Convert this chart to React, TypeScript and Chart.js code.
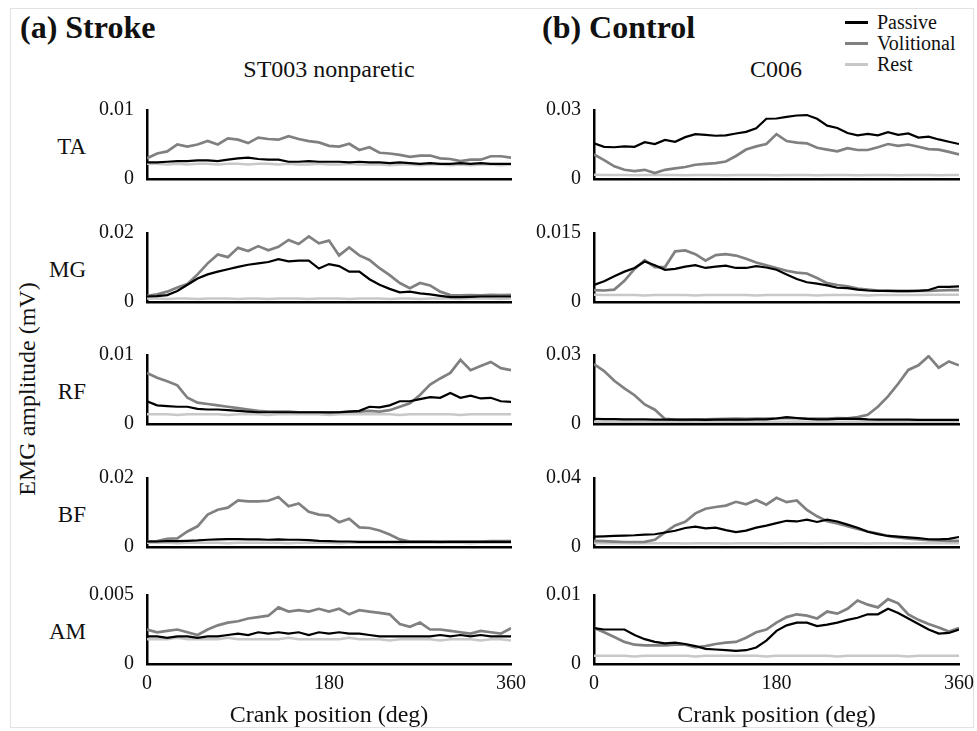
import React, { useEffect, useRef } from "react";
import { Chart, registerables } from "chart.js";
Chart.register(...registerables);

// ---------- data ----------
const DEG = [0, 10, 20, 30, 40, 50, 60, 70, 80, 90, 100, 110, 120, 130, 140, 150, 160, 170, 180, 190, 200, 210, 220, 230, 240, 250, 260, 270, 280, 290, 300, 310, 320, 330, 340, 350, 360];
const X_TICKS = [0, 180, 360];
const SERIES_NAMES = ["Passive", "Volitional", "Rest"];
const MUSCLES = ["TA", "MG", "RF", "BF", "AM"];
const STROKE_YMAX = [0.01, 0.02, 0.01, 0.02, 0.005];
const STROKE_YLABELS = ["0.01", "0.02", "0.01", "0.02", "0.005"];
const CONTROL_YMAX = [0.03, 0.015, 0.03, 0.04, 0.01];
const CONTROL_YLABELS = ["0.03", "0.015", "0.03", "0.04", "0.01"];

// Stroke (ST003 nonparetic)
const ST_TA_PAS = [0.0024, 0.0024, 0.0025, 0.0026, 0.0026, 0.0027, 0.0027, 0.0026, 0.0028, 0.0030, 0.0031, 0.0029, 0.0028, 0.0028, 0.0025, 0.0025, 0.0026, 0.0025, 0.0025, 0.0025, 0.0024, 0.0025, 0.0024, 0.0024, 0.0023, 0.0024, 0.0023, 0.0022, 0.0023, 0.0022, 0.0022, 0.0023, 0.0022, 0.0023, 0.0022, 0.0022, 0.0022];
const ST_TA_VOL = [0.0030, 0.0037, 0.0040, 0.0050, 0.0047, 0.0050, 0.0055, 0.0050, 0.0059, 0.0057, 0.0052, 0.0060, 0.0058, 0.0057, 0.0062, 0.0058, 0.0055, 0.0053, 0.0048, 0.0047, 0.0051, 0.0042, 0.0046, 0.0038, 0.0037, 0.0035, 0.0032, 0.0034, 0.0034, 0.0030, 0.0029, 0.0026, 0.0028, 0.0028, 0.0033, 0.0033, 0.0031];
const ST_TA_REST = [0.0022, 0.0022, 0.0021, 0.0022, 0.0021, 0.0022, 0.0022, 0.0021, 0.0022, 0.0022, 0.0021, 0.0022, 0.0022, 0.0021, 0.0022, 0.0021, 0.0021, 0.0022, 0.0021, 0.0021, 0.0022, 0.0021, 0.0021, 0.0021, 0.0020, 0.0021, 0.0021, 0.0020, 0.0021, 0.0021, 0.0020, 0.0021, 0.0020, 0.0021, 0.0021, 0.0020, 0.0021];

const ST_MG_PAS = [0.0016, 0.0017, 0.0020, 0.0032, 0.0050, 0.0068, 0.0080, 0.0088, 0.0095, 0.0102, 0.0108, 0.0112, 0.0116, 0.0124, 0.0118, 0.0120, 0.0120, 0.0097, 0.0110, 0.0104, 0.0088, 0.0088, 0.0066, 0.0050, 0.0038, 0.0028, 0.0030, 0.0025, 0.0022, 0.0018, 0.0014, 0.0014, 0.0015, 0.0016, 0.0016, 0.0016, 0.0016];
const ST_MG_VOL = [0.0018, 0.0022, 0.0030, 0.0042, 0.0052, 0.0080, 0.0112, 0.0138, 0.0130, 0.0157, 0.0148, 0.0162, 0.0150, 0.0160, 0.0180, 0.0168, 0.0190, 0.0170, 0.0178, 0.0135, 0.0158, 0.0135, 0.0122, 0.0098, 0.0078, 0.0055, 0.0040, 0.0055, 0.0048, 0.0030, 0.0020, 0.0019, 0.0020, 0.0019, 0.0021, 0.0020, 0.0021];
const ST_MG_REST = [0.0010, 0.0010, 0.0009, 0.0010, 0.0010, 0.0009, 0.0010, 0.0010, 0.0010, 0.0009, 0.0010, 0.0010, 0.0009, 0.0010, 0.0010, 0.0010, 0.0009, 0.0010, 0.0010, 0.0010, 0.0009, 0.0010, 0.0010, 0.0010, 0.0009, 0.0010, 0.0010, 0.0009, 0.0010, 0.0010, 0.0010, 0.0009, 0.0010, 0.0010, 0.0010, 0.0009, 0.0010];

const ST_RF_PAS = [0.0033, 0.0027, 0.0026, 0.0025, 0.0025, 0.0022, 0.0021, 0.0021, 0.0020, 0.0019, 0.0018, 0.0017, 0.0017, 0.0017, 0.0017, 0.0017, 0.0017, 0.0017, 0.0017, 0.0017, 0.0018, 0.0019, 0.0025, 0.0024, 0.0027, 0.0033, 0.0033, 0.0036, 0.0039, 0.0038, 0.0045, 0.0038, 0.0041, 0.0037, 0.0038, 0.0033, 0.0032];
const ST_RF_VOL = [0.0074, 0.0067, 0.0062, 0.0056, 0.0038, 0.0031, 0.0029, 0.0027, 0.0025, 0.0023, 0.0021, 0.0019, 0.0018, 0.0018, 0.0018, 0.0017, 0.0017, 0.0017, 0.0016, 0.0017, 0.0018, 0.0018, 0.0019, 0.0018, 0.0020, 0.0025, 0.0030, 0.0042, 0.0057, 0.0066, 0.0074, 0.0093, 0.0078, 0.0084, 0.0090, 0.0081, 0.0078];
const ST_RF_REST = [0.0014, 0.0014, 0.0014, 0.0013, 0.0014, 0.0014, 0.0014, 0.0014, 0.0013, 0.0014, 0.0014, 0.0014, 0.0013, 0.0014, 0.0014, 0.0014, 0.0014, 0.0014, 0.0013, 0.0014, 0.0014, 0.0014, 0.0014, 0.0014, 0.0014, 0.0013, 0.0014, 0.0014, 0.0014, 0.0014, 0.0014, 0.0013, 0.0014, 0.0014, 0.0014, 0.0014, 0.0014];

const ST_BF_PAS = [0.0016, 0.0016, 0.0017, 0.0017, 0.0018, 0.0019, 0.0021, 0.0022, 0.0023, 0.0023, 0.0022, 0.0022, 0.0021, 0.0022, 0.0021, 0.0021, 0.0020, 0.0018, 0.0017, 0.0016, 0.0016, 0.0015, 0.0015, 0.0015, 0.0015, 0.0015, 0.0015, 0.0015, 0.0015, 0.0015, 0.0015, 0.0015, 0.0015, 0.0015, 0.0015, 0.0015, 0.0015];
const ST_BF_VOL = [0.0016, 0.0017, 0.0024, 0.0025, 0.0045, 0.0060, 0.0094, 0.0108, 0.0114, 0.0135, 0.0132, 0.0132, 0.0134, 0.0145, 0.0118, 0.0126, 0.0102, 0.0094, 0.0091, 0.0072, 0.0082, 0.0057, 0.0055, 0.0048, 0.0036, 0.0022, 0.0016, 0.0016, 0.0016, 0.0015, 0.0016, 0.0016, 0.0016, 0.0016, 0.0017, 0.0017, 0.0017];
const ST_BF_REST = [0.0012, 0.0012, 0.0012, 0.0011, 0.0012, 0.0012, 0.0012, 0.0012, 0.0011, 0.0012, 0.0012, 0.0012, 0.0012, 0.0012, 0.0011, 0.0012, 0.0012, 0.0012, 0.0012, 0.0011, 0.0012, 0.0012, 0.0012, 0.0012, 0.0012, 0.0011, 0.0012, 0.0012, 0.0012, 0.0012, 0.0012, 0.0012, 0.0011, 0.0012, 0.0012, 0.0012, 0.0012];

const ST_AM_PAS = [0.0020, 0.0020, 0.0019, 0.0020, 0.0020, 0.0019, 0.0020, 0.0020, 0.0021, 0.0022, 0.0021, 0.0023, 0.0022, 0.0023, 0.0022, 0.0023, 0.0021, 0.0023, 0.0022, 0.0023, 0.0022, 0.0022, 0.0021, 0.0020, 0.0020, 0.0020, 0.0020, 0.0020, 0.0020, 0.0021, 0.0020, 0.0021, 0.0020, 0.0021, 0.0020, 0.0020, 0.0020];
const ST_AM_VOL = [0.0025, 0.0023, 0.0024, 0.0025, 0.0023, 0.0021, 0.0025, 0.0028, 0.0030, 0.0031, 0.0033, 0.0034, 0.0035, 0.0041, 0.0038, 0.0039, 0.0038, 0.0040, 0.0038, 0.0040, 0.0036, 0.0039, 0.0038, 0.0037, 0.0036, 0.0029, 0.0027, 0.0030, 0.0025, 0.0025, 0.0024, 0.0023, 0.0022, 0.0024, 0.0023, 0.0022, 0.0026];
const ST_AM_REST = [0.0018, 0.0018, 0.0018, 0.0019, 0.0018, 0.0018, 0.0018, 0.0018, 0.0019, 0.0018, 0.0018, 0.0018, 0.0018, 0.0018, 0.0019, 0.0018, 0.0018, 0.0018, 0.0018, 0.0018, 0.0019, 0.0018, 0.0018, 0.0018, 0.0017, 0.0018, 0.0018, 0.0018, 0.0018, 0.0017, 0.0018, 0.0018, 0.0018, 0.0017, 0.0018, 0.0018, 0.0017];

// Control (C006)
const CT_TA_PAS = [0.0155, 0.0140, 0.0138, 0.0142, 0.0140, 0.0160, 0.0152, 0.0170, 0.0162, 0.0182, 0.0195, 0.0192, 0.0188, 0.0190, 0.0198, 0.0205, 0.0220, 0.0262, 0.0263, 0.0270, 0.0276, 0.0278, 0.0262, 0.0232, 0.0222, 0.0200, 0.0190, 0.0196, 0.0190, 0.0204, 0.0192, 0.0198, 0.0180, 0.0184, 0.0172, 0.0162, 0.0152];
const CT_TA_VOL = [0.0107, 0.0082, 0.0055, 0.0040, 0.0034, 0.0040, 0.0026, 0.0040, 0.0046, 0.0052, 0.0062, 0.0066, 0.0069, 0.0076, 0.0100, 0.0128, 0.0142, 0.0152, 0.0195, 0.0165, 0.0158, 0.0155, 0.0136, 0.0128, 0.0120, 0.0134, 0.0126, 0.0126, 0.0138, 0.0152, 0.0144, 0.0150, 0.0140, 0.0130, 0.0128, 0.0118, 0.0107];
const CT_TA_REST = [0.0018, 0.0017, 0.0017, 0.0017, 0.0016, 0.0017, 0.0017, 0.0017, 0.0017, 0.0016, 0.0017, 0.0017, 0.0017, 0.0016, 0.0017, 0.0017, 0.0017, 0.0017, 0.0016, 0.0017, 0.0017, 0.0017, 0.0016, 0.0017, 0.0017, 0.0017, 0.0016, 0.0017, 0.0017, 0.0017, 0.0016, 0.0017, 0.0017, 0.0017, 0.0016, 0.0017, 0.0017];

const CT_MG_PAS = [0.0037, 0.0045, 0.0056, 0.0066, 0.0074, 0.0088, 0.0080, 0.0070, 0.0072, 0.0077, 0.0080, 0.0074, 0.0077, 0.0079, 0.0074, 0.0074, 0.0078, 0.0075, 0.0070, 0.0060, 0.0050, 0.0043, 0.0040, 0.0036, 0.0031, 0.0030, 0.0027, 0.0025, 0.0024, 0.0024, 0.0024, 0.0024, 0.0024, 0.0026, 0.0033, 0.0033, 0.0034];
const CT_MG_VOL = [0.0026, 0.0025, 0.0027, 0.0046, 0.0072, 0.0091, 0.0076, 0.0076, 0.0110, 0.0112, 0.0104, 0.0090, 0.0102, 0.0104, 0.0101, 0.0094, 0.0086, 0.0080, 0.0074, 0.0068, 0.0064, 0.0062, 0.0052, 0.0041, 0.0037, 0.0034, 0.0029, 0.0027, 0.0025, 0.0024, 0.0023, 0.0023, 0.0024, 0.0024, 0.0025, 0.0026, 0.0026];
const CT_MG_REST = [0.0016, 0.0015, 0.0015, 0.0015, 0.0015, 0.0014, 0.0015, 0.0015, 0.0015, 0.0015, 0.0014, 0.0015, 0.0015, 0.0015, 0.0015, 0.0015, 0.0014, 0.0015, 0.0015, 0.0015, 0.0015, 0.0015, 0.0014, 0.0015, 0.0015, 0.0015, 0.0015, 0.0014, 0.0015, 0.0015, 0.0015, 0.0015, 0.0015, 0.0016, 0.0016, 0.0016, 0.0016];

const CT_RF_PAS = [0.0022, 0.0021, 0.0021, 0.0020, 0.0020, 0.0020, 0.0019, 0.0019, 0.0019, 0.0019, 0.0019, 0.0018, 0.0019, 0.0019, 0.0019, 0.0019, 0.0020, 0.0020, 0.0024, 0.0030, 0.0026, 0.0022, 0.0020, 0.0020, 0.0022, 0.0023, 0.0022, 0.0020, 0.0019, 0.0019, 0.0019, 0.0019, 0.0018, 0.0018, 0.0018, 0.0018, 0.0018];
const CT_RF_VOL = [0.0260, 0.0230, 0.0188, 0.0155, 0.0125, 0.0085, 0.0062, 0.0022, 0.0019, 0.0018, 0.0019, 0.0020, 0.0021, 0.0022, 0.0023, 0.0022, 0.0023, 0.0024, 0.0025, 0.0026, 0.0025, 0.0023, 0.0023, 0.0024, 0.0026, 0.0025, 0.0030, 0.0040, 0.0075, 0.0120, 0.0175, 0.0235, 0.0255, 0.0295, 0.0245, 0.0272, 0.0255];
const CT_RF_REST = [0.0010, 0.0010, 0.0010, 0.0011, 0.0010, 0.0010, 0.0010, 0.0010, 0.0011, 0.0010, 0.0010, 0.0010, 0.0010, 0.0010, 0.0011, 0.0010, 0.0010, 0.0010, 0.0010, 0.0010, 0.0011, 0.0010, 0.0010, 0.0010, 0.0010, 0.0010, 0.0011, 0.0010, 0.0010, 0.0010, 0.0010, 0.0010, 0.0011, 0.0010, 0.0010, 0.0010, 0.0010];

const CT_BF_PAS = [0.0060, 0.0062, 0.0064, 0.0066, 0.0068, 0.0072, 0.0074, 0.0084, 0.0094, 0.0110, 0.0118, 0.0108, 0.0112, 0.0098, 0.0086, 0.0095, 0.0112, 0.0124, 0.0138, 0.0152, 0.0148, 0.0158, 0.0145, 0.0158, 0.0148, 0.0130, 0.0112, 0.0088, 0.0075, 0.0064, 0.0060, 0.0056, 0.0052, 0.0045, 0.0044, 0.0047, 0.0058];
const CT_BF_VOL = [0.0036, 0.0034, 0.0031, 0.0029, 0.0029, 0.0030, 0.0042, 0.0085, 0.0125, 0.0146, 0.0195, 0.0222, 0.0232, 0.0240, 0.0262, 0.0248, 0.0272, 0.0245, 0.0285, 0.0260, 0.0270, 0.0215, 0.0178, 0.0150, 0.0136, 0.0120, 0.0105, 0.0090, 0.0078, 0.0064, 0.0056, 0.0049, 0.0044, 0.0040, 0.0038, 0.0035, 0.0035];
const CT_BF_REST = [0.0023, 0.0022, 0.0022, 0.0022, 0.0021, 0.0022, 0.0022, 0.0022, 0.0022, 0.0021, 0.0022, 0.0022, 0.0022, 0.0021, 0.0022, 0.0022, 0.0022, 0.0022, 0.0021, 0.0022, 0.0022, 0.0022, 0.0021, 0.0022, 0.0022, 0.0022, 0.0022, 0.0021, 0.0022, 0.0022, 0.0022, 0.0021, 0.0022, 0.0022, 0.0022, 0.0022, 0.0022];

const CT_AM_PAS = [0.0052, 0.0050, 0.0050, 0.0050, 0.0042, 0.0036, 0.0032, 0.0030, 0.0031, 0.0029, 0.0026, 0.0022, 0.0021, 0.0020, 0.0019, 0.0020, 0.0024, 0.0034, 0.0048, 0.0056, 0.0060, 0.0060, 0.0055, 0.0057, 0.0060, 0.0064, 0.0067, 0.0072, 0.0072, 0.0080, 0.0074, 0.0066, 0.0058, 0.0050, 0.0044, 0.0045, 0.0050];
const CT_AM_VOL = [0.0052, 0.0046, 0.0039, 0.0032, 0.0028, 0.0027, 0.0027, 0.0027, 0.0028, 0.0028, 0.0024, 0.0026, 0.0029, 0.0031, 0.0032, 0.0038, 0.0046, 0.0050, 0.0060, 0.0068, 0.0072, 0.0070, 0.0066, 0.0076, 0.0073, 0.0080, 0.0092, 0.0086, 0.0082, 0.0094, 0.0088, 0.0072, 0.0064, 0.0058, 0.0053, 0.0047, 0.0052];
const CT_AM_REST = [0.0012, 0.0012, 0.0012, 0.0012, 0.0011, 0.0012, 0.0012, 0.0012, 0.0012, 0.0012, 0.0011, 0.0012, 0.0012, 0.0012, 0.0012, 0.0012, 0.0012, 0.0011, 0.0012, 0.0012, 0.0012, 0.0012, 0.0012, 0.0012, 0.0011, 0.0012, 0.0012, 0.0012, 0.0012, 0.0012, 0.0012, 0.0011, 0.0012, 0.0012, 0.0012, 0.0012, 0.0012];

const STROKE_DATA = [
  [ST_TA_PAS, ST_TA_VOL, ST_TA_REST],
  [ST_MG_PAS, ST_MG_VOL, ST_MG_REST],
  [ST_RF_PAS, ST_RF_VOL, ST_RF_REST],
  [ST_BF_PAS, ST_BF_VOL, ST_BF_REST],
  [ST_AM_PAS, ST_AM_VOL, ST_AM_REST],
];
const CONTROL_DATA = [
  [CT_TA_PAS, CT_TA_VOL, CT_TA_REST],
  [CT_MG_PAS, CT_MG_VOL, CT_MG_REST],
  [CT_RF_PAS, CT_RF_VOL, CT_RF_REST],
  [CT_BF_PAS, CT_BF_VOL, CT_BF_REST],
  [CT_AM_PAS, CT_AM_VOL, CT_AM_REST],
];

// ---------- styling / layout ----------
const FONT = "'Liberation Serif', 'Times New Roman', Times, serif";
const SERIES_COLORS = ["#000000", "#808080", "#c8c8c8"];
const SERIES_WIDTHS = [2.2, 2.7, 2.5];
const ROW_TOPS = [110, 233, 355, 478, 595];
const ROW_H = 69;
const Y_AXIS_W = 67;
const PAD_T = 14;
const PAD_R = 16;
const X_H = 14;
const X_H_BOTTOM = 68;

type PanelProps = {
  left: number;
  top: number;
  chartW: number;
  ymax: number;
  ylabel: string;
  series: number[][];
  bottom: boolean;
};

function Panel({ left, top, chartW, ymax, ylabel, series, bottom }: PanelProps) {
  const ref = useRef<HTMLCanvasElement>(null);
  const W = Y_AXIS_W + chartW + PAD_R;
  const H = PAD_T + ROW_H + (bottom ? X_H_BOTTOM : X_H);

  useEffect(() => {
    if (!ref.current) return;
    const chart = new Chart(ref.current, {
      type: "line",
      data: {
        datasets: series.map((arr, i) => ({
          label: SERIES_NAMES[i],
          data: DEG.map((d, j) => ({ x: d, y: arr[j] })),
          borderColor: SERIES_COLORS[i],
          backgroundColor: SERIES_COLORS[i],
          borderWidth: SERIES_WIDTHS[i],
          pointRadius: 0,
          tension: 0,
          fill: false,
        })),
      },
      options: {
        animation: false,
        responsive: false,
        maintainAspectRatio: false,
        layout: { padding: { top: PAD_T, right: PAD_R, left: 0, bottom: 0 } },
        plugins: { legend: { display: false }, tooltip: { enabled: false } },
        scales: {
          x: {
            type: "linear",
            min: 0,
            max: 360,
            grid: { display: false, drawTicks: false },
            border: { display: true, color: "#000", width: 2.5 },
            ticks: {
              display: bottom,
              autoSkip: false,
              maxRotation: 0,
              padding: 8,
              color: "#111",
              font: { family: FONT, size: 20 },
            },
            afterBuildTicks: (s: any) => {
              s.ticks = X_TICKS.map((v) => ({ value: v }));
            },
            afterFit: (s: any) => {
              s.height = bottom ? X_H_BOTTOM : X_H;
              s.paddingLeft = 0;
              s.paddingRight = 0;
            },
            title: {
              display: bottom,
              text: "Crank position (deg)",
              color: "#111",
              font: { family: FONT, size: 24 },
              padding: { top: 0, bottom: 2 },
            },
          },
          y: {
            type: "linear",
            min: 0,
            max: ymax,
            grid: { display: false, drawTicks: false },
            border: { display: true, color: "#000", width: 2.5 },
            ticks: {
              padding: 13,
              color: "#111",
              font: { family: FONT, size: 20 },
              callback: (v: any) => (Number(v) === 0 ? "0" : ylabel),
            },
            afterBuildTicks: (s: any) => {
              s.ticks = [{ value: 0 }, { value: ymax }];
            },
            afterFit: (s: any) => {
              s.width = Y_AXIS_W;
              s.paddingTop = 0;
              s.paddingBottom = 0;
            },
          },
        },
      },
    } as any);
    return () => chart.destroy();
  }, []);

  return (
    <canvas
      ref={ref}
      width={W}
      height={H}
      style={{ position: "absolute", left: left - Y_AXIS_W, top: top - PAD_T, width: W, height: H }}
    />
  );
}

function Text({ x, y, size, children, bold, align }: any) {
  const style: React.CSSProperties = {
    position: "absolute",
    top: y - size / 2,
    fontSize: size,
    lineHeight: size + "px",
    fontWeight: bold ? "bold" : "normal",
    whiteSpace: "nowrap",
    color: "#111",
  };
  if (align === "center") {
    style.left = x;
    style.transform = "translateX(-50%)";
  } else if (align === "right") {
    style.right = 977 - x;
  } else {
    style.left = x;
  }
  return <div style={style}>{children}</div>;
}

export default function App() {
  const cols = [
    { left: 147, width: 364, ymax: STROKE_YMAX, labels: STROKE_YLABELS, data: STROKE_DATA },
    { left: 594, width: 365, ymax: CONTROL_YMAX, labels: CONTROL_YLABELS, data: CONTROL_DATA },
  ];
  const legendY = [22, 43, 64];
  return (
    <div
      style={{
        position: "absolute",
        left: 0,
        top: 0,
        width: 977,
        height: 731,
        overflow: "hidden",
        background: "#fff",
        fontFamily: FONT,
      }}
    >
      <div
        style={{
          position: "absolute",
          left: 10,
          top: 8,
          width: 962,
          height: 718,
          border: "1px solid #e2e2e2",
        }}
      />
      <Text x={20} y={27} size={32} bold>(a) Stroke</Text>
      <Text x={542} y={27} size={32} bold>(b) Control</Text>
      <Text x={329} y={69} size={24} align="center">ST003 nonparetic</Text>
      <Text x={776} y={69} size={24} align="center">C006</Text>
      {SERIES_NAMES.map((n, i) => (
        <React.Fragment key={n}>
          <div
            style={{
              position: "absolute",
              left: 845,
              top: legendY[i] - 1.5,
              width: 23,
              height: 3,
              background: SERIES_COLORS[i],
            }}
          />
          <Text x={877} y={legendY[i]} size={20}>{n}</Text>
        </React.Fragment>
      ))}
      {MUSCLES.map((m, i) => (
        <Text key={m} x={86} y={ROW_TOPS[i] + 36} size={23} align="right">{m}</Text>
      ))}
      <div
        style={{
          position: "absolute",
          left: 27,
          top: 389,
          transform: "translate(-50%, -50%) rotate(-90deg)",
          whiteSpace: "nowrap",
          fontSize: 24,
          lineHeight: "24px",
          color: "#111",
        }}
      >
        EMG amplitude (mV)
      </div>
      {cols.map((c, ci) =>
        ROW_TOPS.map((t, ri) => (
          <Panel
            key={ci + "-" + ri}
            left={c.left}
            top={t}
            chartW={c.width}
            ymax={c.ymax[ri]}
            ylabel={c.labels[ri]}
            series={c.data[ri]}
            bottom={ri === ROW_TOPS.length - 1}
          />
        ))
      )}
    </div>
  );
}
